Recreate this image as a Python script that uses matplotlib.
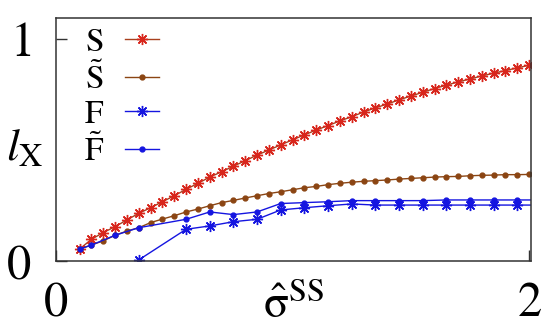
import numpy as np
import matplotlib
matplotlib.use("Agg")
import matplotlib.pyplot as plt

plt.rcParams['font.family'] = 'serif'
plt.rcParams['font.serif'] = ['Liberation Serif', 'DejaVu Serif']
plt.rcParams['mathtext.fontset'] = 'stix'

# ---- data ----
x_S = [0.10, 0.15, 0.20, 0.25, 0.30, 0.35, 0.40, 0.45, 0.50, 0.55, 0.60, 0.65, 0.70,
       0.75, 0.80, 0.85, 0.90, 0.95, 1.00, 1.05, 1.10, 1.15, 1.20, 1.25, 1.30, 1.35,
       1.40, 1.45, 1.50, 1.55, 1.60, 1.65, 1.70, 1.75, 1.80, 1.85, 1.90, 1.95, 2.00]
y_S = [0.054, 0.098, 0.128, 0.155, 0.185, 0.215, 0.240, 0.267, 0.294, 0.323, 0.350,
       0.378, 0.402, 0.427, 0.452, 0.477, 0.500, 0.523, 0.546, 0.568, 0.590, 0.610,
       0.631, 0.650, 0.671, 0.690, 0.707, 0.726, 0.743, 0.760, 0.777, 0.792, 0.807,
       0.820, 0.834, 0.846, 0.858, 0.870, 0.882]

x_St = x_S
y_St = [0.054, 0.072, 0.091, 0.116, 0.135, 0.150, 0.173, 0.189, 0.204, 0.221, 0.234,
        0.249, 0.263, 0.273, 0.284, 0.294, 0.304, 0.312, 0.321, 0.330, 0.336, 0.344,
        0.350, 0.355, 0.359, 0.362, 0.365, 0.369, 0.372, 0.375, 0.378, 0.380, 0.381,
        0.384, 0.386, 0.387, 0.389, 0.389, 0.390]

x_F = [0.35, 0.55, 0.65, 0.75, 0.85, 0.95, 1.05, 1.15, 1.25, 1.35, 1.45, 1.55, 1.65,
       1.75, 1.85, 1.95, 2.05]
y_F = [0.005, 0.143, 0.158, 0.177, 0.188, 0.230, 0.240, 0.249, 0.257, 0.252, 0.252,
       0.252, 0.252, 0.252, 0.252, 0.252, 0.252]

x_Ft = [0.10, 0.15, 0.25, 0.35, 0.55, 0.65, 0.75, 0.85, 0.95, 1.05, 1.15, 1.25, 1.35,
        1.45, 1.55, 1.65, 1.75, 1.85, 1.95, 2.05]
y_Ft = [0.054, 0.072, 0.116, 0.150, 0.188, 0.221, 0.209, 0.221, 0.259, 0.263, 0.267,
        0.272, 0.272, 0.272, 0.272, 0.275, 0.275, 0.275, 0.275, 0.275]

labels = [r"$\mathrm{S}$", r"$\tilde{\mathrm{S}}$", r"$\mathrm{F}$", r"$\tilde{\mathrm{F}}$"]
xtick_labels = [r"$\mathrm{0}$", r"$\mathrm{2}$"]
ytick_labels = [r"$\mathrm{0}$", r"$\mathrm{1}$"]

# ---- figure ----
fig = plt.figure(figsize=(5.5, 3.33), dpi=100)
ax = fig.add_axes([0.1018, 0.2162, 0.8637, 0.7306])

star = (8, 2, 0)
ax.plot(x_S, y_S, color='#a8401e', lw=1.0, marker=star, ms=8, mew=1.0,
        mec='#d8261c', mfc='#d8261c', label=labels[0])
ax.plot(x_St, y_St, color='#8b4513', lw=1.0, marker='o', ms=3.5,
        mec='#8b4513', mfc='#8b4513', label=labels[1])
ax.plot(x_F, y_F, color='#1515e0', lw=1.0, marker=star, ms=8, mew=1.0,
        mec='#1515e0', mfc='#1515e0', label=labels[2])
ax.plot(x_Ft, y_Ft, color='#1515e0', lw=1.0, marker='o', ms=3.5,
        mec='#1515e0', mfc='#1515e0', label=labels[3])

ax.set_xlim(0, 2.008)
ax.set_ylim(0, 1.096)
ax.set_xticks([0, 2])
ax.set_xticklabels(xtick_labels)
ax.set_yticks([0, 1])
ax.set_yticklabels(ytick_labels)
ax.tick_params(direction='in', length=8, width=1.0, color='#333333', labelsize=35)
ax.tick_params(axis='x', pad=15)
ax.tick_params(axis='y', pad=18)
for s in ax.spines.values():
    s.set_linewidth(1.1)
    s.set_color('#333333')

ax.set_xlabel(r"$\hat{\mathrm{\sigma}}^{\mathrm{SS}}$", fontsize=33)
ax.set_ylabel(r"$l_{\mathrm{X}}$", fontsize=33, rotation=0)
ax.yaxis.set_label_coords(-0.065, 0.46)
ax.xaxis.set_label_coords(0.50, -0.1)
ax.xaxis.label.set_va('top')
ax.yaxis.label.set_va('center')

leg = ax.legend(loc='upper left', bbox_to_anchor=(0.03, 1.015), frameon=False,
                markerfirst=False, numpoints=1, fontsize=24, handlelength=1.0,
                handletextpad=0.65, labelspacing=0.12, borderaxespad=0.0)

fig.savefig("out.png", dpi=100)
